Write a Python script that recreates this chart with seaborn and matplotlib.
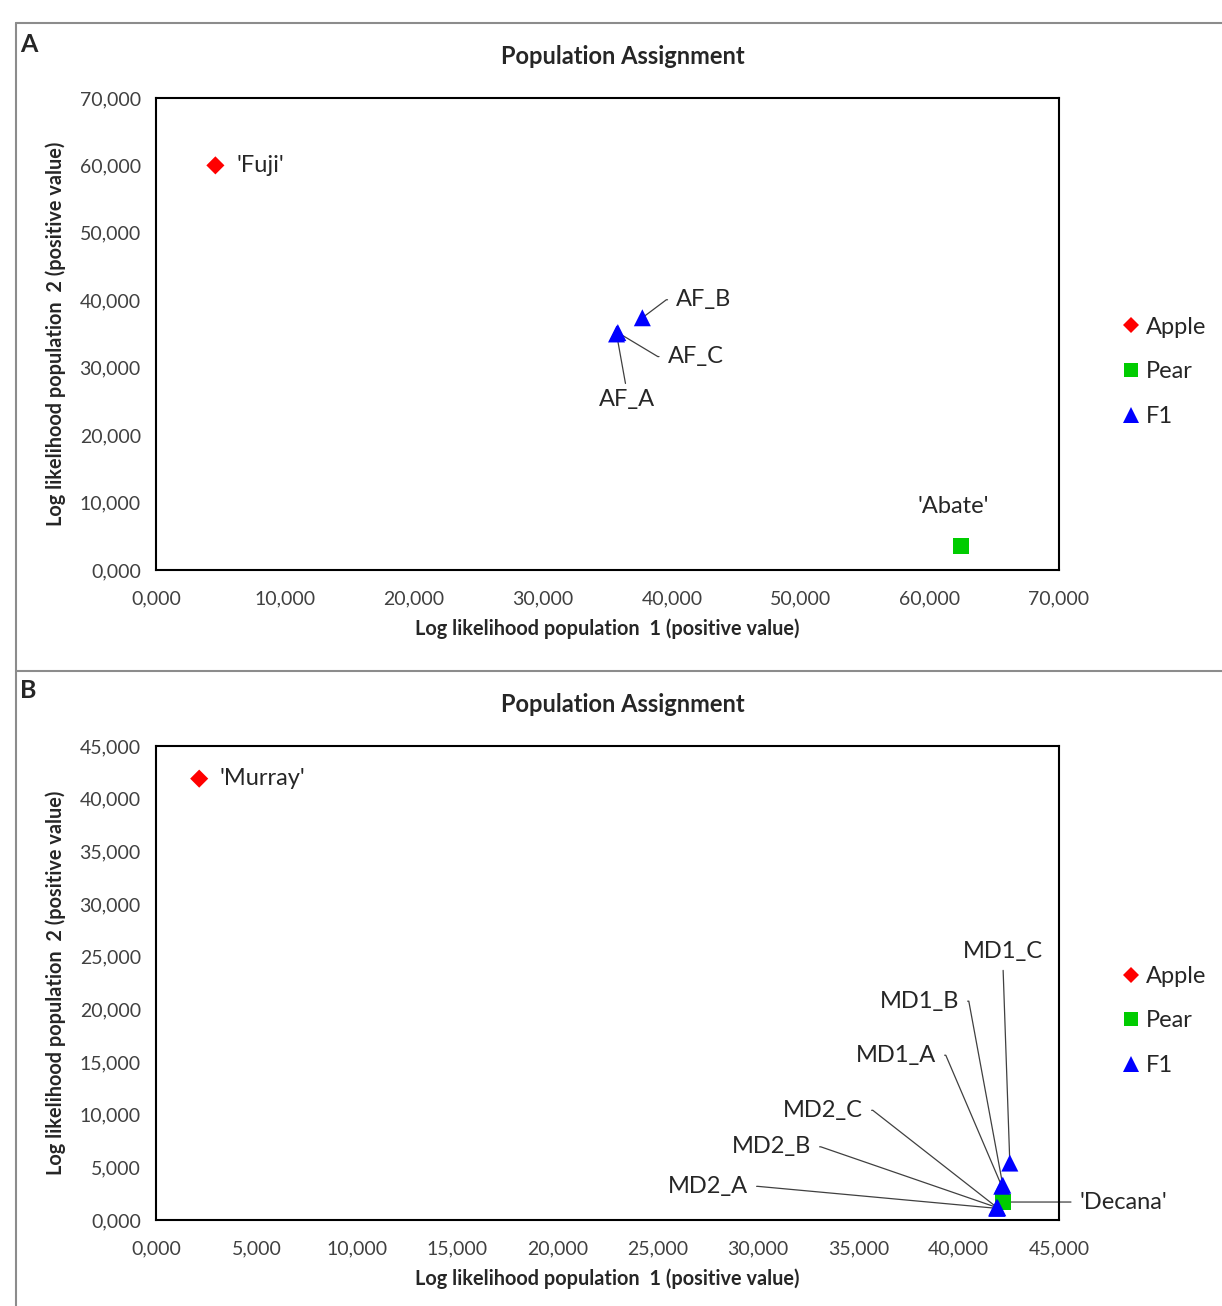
import pandas as pd
import matplotlib.pyplot as plt
import numpy as np
import seaborn as sns
from matplotlib.lines import Line2D

# data
names_a = ["'Fuji'", "'Abate'", "AF_A", "AF_C", "AF_B"]
pop1_a = [4600, 62400, 35700, 35800, 37700]
pop2_a = [60000, 3600, 35000, 35200, 37400]
group_a = ['Apple', 'Pear', 'F1', 'F1', 'F1']

names_b = ["'Murray'", "'Decana'", "MD2_A", "MD2_B", "MD2_C", "MD1_A", "MD1_B", "MD1_C"]
pop1_b = [2150, 42200, 41900, 41950, 41900, 42150, 42200, 42550]
pop2_b = [41900, 1700, 1100, 1150, 1200, 3200, 3300, 5400]
group_b = ['Apple', 'Pear', 'F1', 'F1', 'F1', 'F1', 'F1', 'F1']

ticks_a = [0, 10000, 20000, 30000, 40000, 50000, 60000, 70000]
ticklabels_a = ['0,000', '10,000', '20,000', '30,000', '40,000', '50,000', '60,000', '70,000']
ticks_b = [0, 5000, 10000, 15000, 20000, 25000, 30000, 35000, 40000, 45000]
ticklabels_b = ['0,000', '5,000', '10,000', '15,000', '20,000', '25,000', '30,000',
                '35,000', '40,000', '45,000']

groups = ['Apple', 'Pear', 'F1']
colors = {'Apple': '#ff0000', 'Pear': '#00cc00', 'F1': '#0000ff'}
markers = {'Apple': 'D', 'Pear': 's', 'F1': '^'}
sizes = {'Apple': 85, 'Pear': 130, 'F1': 150}

# label placement: offset in pixels from point, alignment, leader style
labels_a = [(21, 0, 'left', None), (-8, 39, 'center', None),
            (10, -66, 'center', 'below'), (50, -24, 'left', 'right'),
            (34, 18, 'left', 'right')]
labels_b = [(20, 0, 'left', None), (77, 0, 'left', 'straight_right'),
            (-249, 22, 'right', 'left'), (-187, 61, 'right', 'left'),
            (-134, 97, 'right', 'left'), (-66, 131, 'right', 'left'),
            (-44, 184, 'right', 'left'), (-7, 212, 'center', 'above')]

sns.set_style('white')
plt.rcParams['font.family'] = ['Lato', 'DejaVu Sans']
text_col = '#262626'

fig = plt.figure(figsize=(12.22, 13.06), dpi=100)
ax_a = fig.add_axes([0.1277, 0.5636, 0.7389, 0.3614])
ax_b = fig.add_axes([0.1277, 0.0659, 0.7389, 0.3629])


def draw_panel(ax, names, xs, ys, grp, labels, ticks, ticklabels, lim):
    df = pd.DataFrame({'name': names, 'x': xs, 'y': ys, 'group': grp})
    sns.scatterplot(data=df, x='x', y='y', hue='group', style='group', size='group',
                    hue_order=groups, style_order=groups, size_order=groups,
                    palette=colors, markers=markers, sizes=sizes,
                    linewidth=0, ax=ax, zorder=3, clip_on=False)
    ax.set_xlim(lim)
    ax.set_ylim(lim)
    ax.set_xticks(ticks, ticklabels)
    ax.set_yticks(ticks, ticklabels)
    ax.tick_params(direction='out', length=5, width=1, color='#888888',
                   labelsize=14, labelcolor='#404040', pad=6)
    ax.tick_params(axis='x', pad=10)
    for s in ax.spines.values():
        s.set_color('black')
        s.set_linewidth(1.5)
    ax.set_xlabel('Log likelihood population  1 (positive value)', fontsize=14.3,
                  fontweight='bold', color=text_col, labelpad=8)
    ax.set_ylabel('Log likelihood population  2 (positive value)', fontsize=14.3,
                  fontweight='bold', color=text_col, labelpad=10)

    for i, row in df.iterrows():
        dx, dy, ha, leader = labels[i]
        arrow = None
        if leader == 'left':
            arrow = dict(arrowstyle='-', color='#404040', lw=0.9, shrinkA=4, shrinkB=2,
                         relpos=(1, 0.5),
                         connectionstyle='arc,angleA=0,angleB=0,armA=10,armB=0,rad=0')
        elif leader == 'right':
            arrow = dict(arrowstyle='-', color='#404040', lw=0.9, shrinkA=4, shrinkB=2,
                         relpos=(0, 0.5),
                         connectionstyle='arc,angleA=180,angleB=0,armA=10,armB=0,rad=0')
        elif leader == 'straight_right':
            arrow = dict(arrowstyle='-', color='#404040', lw=0.9, shrinkA=4, shrinkB=0,
                         relpos=(0, 0.5))
        elif leader == 'below':
            arrow = dict(arrowstyle='-', color='#404040', lw=0.9, shrinkA=2, shrinkB=2,
                         relpos=(0.5, 1))
        elif leader == 'above':
            arrow = dict(arrowstyle='-', color='#404040', lw=0.9, shrinkA=4, shrinkB=0,
                         relpos=(0.5, 0))
        ax.annotate(row['name'], xy=(row['x'], row['y']), xytext=(dx, dy),
                    textcoords='offset pixels', ha=ha, va='center', fontsize=17,
                    color=text_col, arrowprops=arrow, zorder=2)

    sns.move_legend(ax, 'center left', bbox_to_anchor=(1.054, 0.42), frameon=False,
                    title=None, fontsize=17, handletextpad=0.0, handlelength=1.2,
                    labelspacing=1.0, borderaxespad=0)
    leg = ax.get_legend()
    for h in leg.legend_handles:
        if hasattr(h, 'set_markersize'):
            h.set_markersize(h.get_markersize() * 0.92)
        elif hasattr(h, 'set_sizes'):
            h.set_sizes([s * 0.85 for s in h.get_sizes()])


draw_panel(ax_a, names_a, pop1_a, pop2_a, group_a, labels_a, ticks_a, ticklabels_a, (0, 70000))
draw_panel(ax_b, names_b, pop1_b, pop2_b, group_b, labels_b, ticks_b, ticklabels_b, (0, 45000))

# titles and panel letters
fig.text(0.51, 1 - 56 / 1306, 'Population Assignment', ha='center', va='center',
         fontsize=17, fontweight='bold', color=text_col)
fig.text(0.51, 1 - 704 / 1306, 'Population Assignment', ha='center', va='center',
         fontsize=17, fontweight='bold', color=text_col)
fig.text(29 / 1222, 1 - 45 / 1306, 'A', ha='center', va='center', fontsize=18,
         fontweight='bold', color=text_col)
fig.text(28 / 1222, 1 - 690 / 1306, 'B', ha='center', va='center', fontsize=18,
         fontweight='bold', color=text_col)

# outer gray frame lines
frame = dict(color='#8c8c8c', lw=1.5, transform=fig.transFigure)
fig.add_artist(Line2D([16 / 1222, 1], [1 - 23 / 1306, 1 - 23 / 1306], **frame))
fig.add_artist(Line2D([16 / 1222, 1], [1 - 671 / 1306, 1 - 671 / 1306], **frame))
fig.add_artist(Line2D([16 / 1222, 16 / 1222], [1 - 23 / 1306, 0], **frame))

fig.savefig('out.png', dpi=100)
